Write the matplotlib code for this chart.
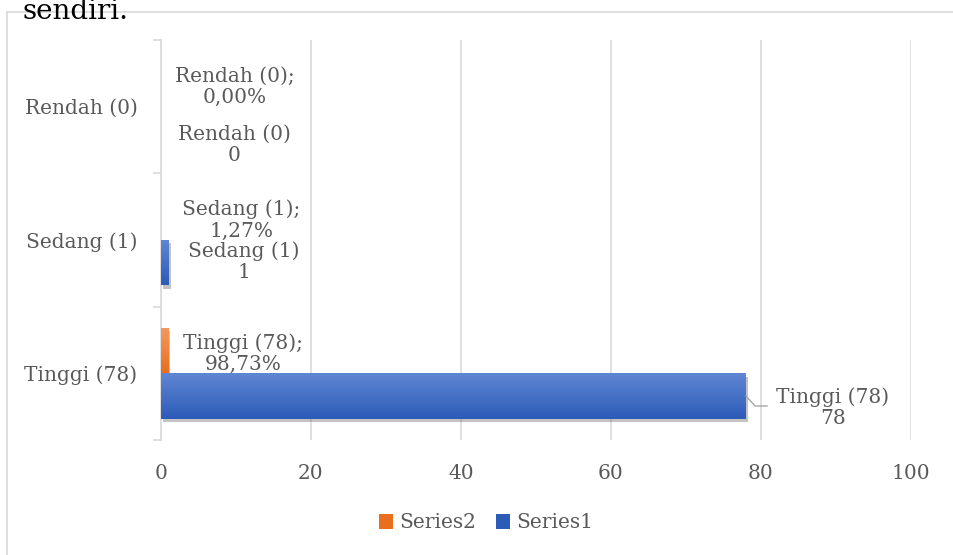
import numpy as np
import matplotlib
matplotlib.use("Agg")
import matplotlib.pyplot as plt
import matplotlib.patheffects as pe
from matplotlib.lines import Line2D
from matplotlib.patches import Patch

# ── Data ────────────────────────────────────────────────────────────────────
categories   = ["Tinggi (78)", "Sedang (1)", "Rendah (0)"]   # bottom -> top
series1      = [78, 1, 0]                 # counts
series2      = [0.9873, 0.0127, 0.0]      # shares
series1_lbls = ["Tinggi (78)\n78", "Sedang (1)\n1", "Rendah (0)\n0"]
series2_lbls = ["Tinggi (78);\n98,73%", "Sedang (1);\n1,27%", "Rendah (0);\n0,00%"]
xticks       = [0, 20, 40, 60, 80, 100]

# ── Style ───────────────────────────────────────────────────────────────────
W, H = 954, 555
DPI  = 100
TXT  = "#595959"
GRID = "#D9D9D9"
BLUE_TOP, BLUE_BOT = "#5F86D2", "#2C5BB8"
ORNG_TOP, ORNG_BOT = "#F29A60", "#E96E1E"
FONT = "DejaVu Serif"
FS   = 14.5

plt.rcParams["font.family"] = [FONT, "DejaVu Sans"]

fig = plt.figure(figsize=(W / DPI, H / DPI), dpi=DPI)

# outer chart frame (top + left edges visible)
fig.add_artist(Line2D([7 / W, 1], [1 - 11.5 / H] * 2, color=GRID, lw=1.2,
                      transform=fig.transFigure))
fig.add_artist(Line2D([7 / W] * 2, [0, 1 - 11.5 / H], color=GRID, lw=1.2,
                      transform=fig.transFigure))
# caption text of the page, partly cut off at the top like the source
fig.text(23 / W, 1 - 19 / H, "sendiri.", fontsize=20, color="black",
         family=FONT, va="baseline", ha="left")

ax = fig.add_axes([161 / W, 1 - 440 / H, (911 - 161) / W, (440 - 40) / H])

y = np.arange(len(categories))
h = 0.34


def gradient_bars(bars, top, bot):
    cmap = matplotlib.colors.LinearSegmentedColormap.from_list("g", [bot, top])
    grad = np.linspace(0, 1, 64).reshape(-1, 1)
    for b in bars:
        if b.get_width() < 0.5:
            b.set_visible(b.get_width() > 0.05)
            continue
        x0, y0 = b.get_x(), b.get_y()
        im = ax.imshow(grad, cmap=cmap, aspect="auto", origin="lower",
                       extent=(x0, x0 + b.get_width(), y0, y0 + b.get_height()),
                       zorder=3)
        im.set_clip_path(b)
        b.set_path_effects([pe.SimplePatchShadow(offset=(1.5, -2.5),
                                                 shadow_rgbFace="#555555",
                                                 alpha=0.35),
                            pe.Normal()])


b1 = ax.barh(y - h / 2, series1, height=h, color=BLUE_BOT, lw=0, zorder=2)
b2 = ax.barh(y + h / 2, series2, height=h, color=ORNG_BOT, lw=0, zorder=2)
gradient_bars(b1, BLUE_TOP, BLUE_BOT)
gradient_bars(b2, ORNG_TOP, ORNG_BOT)
ax.set_xlim(0, 100)
ax.set_ylim(-0.5, 2.5)

# data labels
lbl_kw = dict(fontsize=FS, color=TXT, ha="center", va="center",
              linespacing=1.15, zorder=5)
s2_dx = [10.0, 10.7, 9.8]
for i, (v, t) in enumerate(zip(series2, series2_lbls)):
    ax.text(v + s2_dx[i], y[i] + 0.15, t, **lbl_kw)
s1_off = [-0.26, -0.16, -0.29]
s1_dx = [11.6, 10.0, 9.8]
for i, (v, t) in enumerate(zip(series1, series1_lbls)):
    ax.text(v + s1_dx[i], y[i] + s1_off[i], t, **lbl_kw)
    if v > 50:
        # leader line from bar end to label
        ax.plot([v, v + 1.2, v + 2.8],
                [y[i] - 0.17, y[i] - 0.245, y[i] - 0.245],
                color="#A6A6A6", lw=1, zorder=4)

# axes
ax.set_xticks(xticks)
ax.set_xticklabels([str(t) for t in xticks], fontsize=FS, color=TXT)
ax.tick_params(axis="x", length=0, pad=17)
ax.set_yticks(y)
ax.set_yticklabels(categories, fontsize=FS, color=TXT)
ax.set_yticks(np.arange(-0.5, 3.0, 1.0), minor=True)
ax.tick_params(axis="y", which="major", length=0, pad=17)
ax.tick_params(axis="y", which="minor", length=6, color=GRID, width=1.2)
ax.grid(axis="x", color=GRID, lw=1.2, zorder=0)
ax.set_axisbelow(True)
for s in ["top", "right", "bottom"]:
    ax.spines[s].set_visible(False)
ax.spines["left"].set_color(GRID)
ax.spines["left"].set_linewidth(1.2)

handles = [Patch(facecolor=ORNG_BOT, label="Series2"),
           Patch(facecolor=BLUE_BOT, label="Series1")]
fig.legend(handles=handles, loc="center", bbox_to_anchor=(486 / W, 1 - 523 / H),
           ncol=2, frameon=False, fontsize=FS, handlelength=0.7, handleheight=0.7,
           handletextpad=0.3, columnspacing=1.0, labelcolor=TXT)

fig.savefig("out.png", dpi=DPI)
